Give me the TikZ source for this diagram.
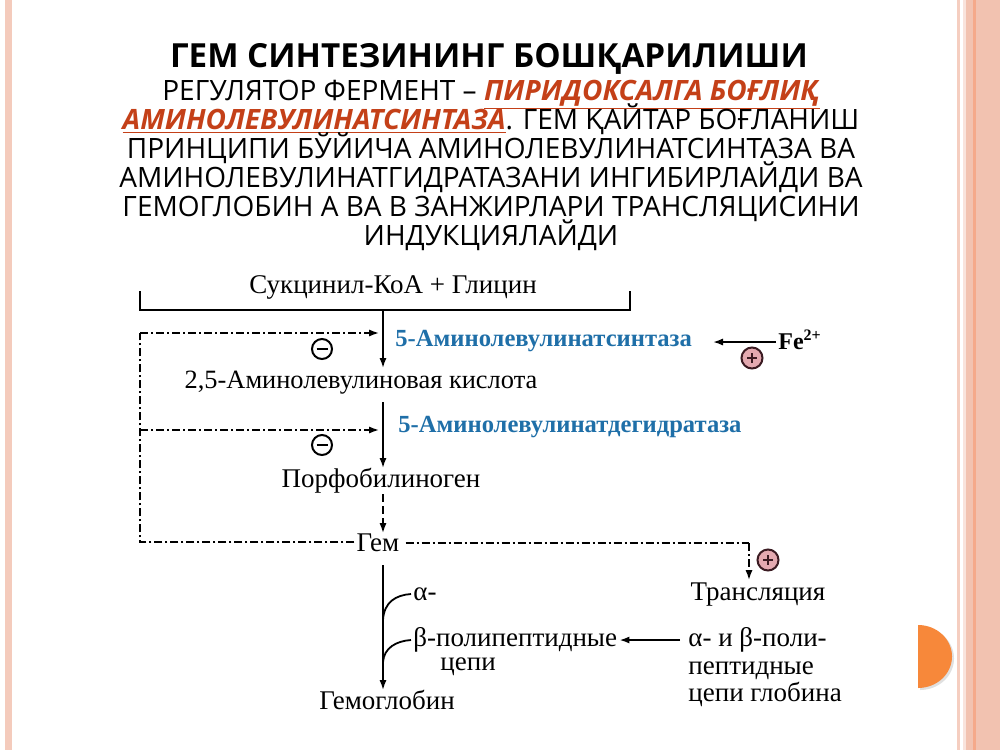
\documentclass[tikz,border=0pt]{standalone}
\usepackage{fontspec}
\usetikzlibrary{arrows.meta}
\newfontfamily\titlefont{Open Sans}
\newfontfamily\dfont{Liberation Serif}
\definecolor{salmon}{HTML}{F2C2B0}
\definecolor{salmonline}{HTML}{F5A98A}
\definecolor{orangeD}{HTML}{F7883A}
\definecolor{redt}{RGB}{196,64,24}
\definecolor{enzblue}{HTML}{1F6FA8}
\definecolor{plusfill}{HTML}{E4A9B0}
\definecolor{plusdraw}{HTML}{3B1B22}
\tikzset{
  tline/.style={font=\titlefont\fontsize{14}{14}\selectfont, inner sep=0pt, anchor=base},
  dtext/.style={font=\dfont\fontsize{13.5}{15}\selectfont, inner sep=1pt},
  enz/.style={font=\dfont\bfseries\fontsize{12.3}{15}\selectfont, text=enzblue, inner sep=1pt, anchor=west},
  solidarrow/.style={line width=0.9pt, -{Latex[length=5pt,width=3.6pt]}},
  dasharrow/.style={line width=0.8pt, dash pattern=on 4pt off 1.5pt on 1pt off 1.5pt, -{Latex[length=5pt,width=3.6pt]}},
  dashline/.style={line width=0.8pt, dash pattern=on 4pt off 1.5pt on 1pt off 1.5pt},
  minus/.style={circle, draw, line width=1pt, minimum size=10pt, inner sep=0pt, fill=white},
  plus/.style={circle, draw=plusdraw, line width=1pt, minimum size=10.5pt, inner sep=0pt, fill=plusfill}
}
\begin{document}
\begin{tikzpicture}[x=0.5pt,y=-0.5pt]
\useasboundingbox (0,0) rectangle (1000,750);
\fill[white] (0,0) rectangle (1000,750);
% side decorations
\fill[salmon!85] (5,0) rectangle (12,750);
\fill[salmon!80] (957,0) rectangle (960,750);
\fill[salmon!45] (963,0) rectangle (966,750);
\fill[salmon] (966,0) rectangle (973,750);
\fill[salmonline] (973,0) rectangle (976,750);
\fill[salmon] (976,0) rectangle (1000,750);
\fill[black!12] (920,627) -- (920,690) arc[start angle=-90, end angle=90, x radius=34, y radius=-31.5] -- cycle;
\fill[orangeD] (918,625) -- (918,688) arc[start angle=-90, end angle=90, x radius=34, y radius=-31.5] -- cycle;

% title and text
\node[tline, font=\titlefont\bfseries\fontsize{16.6}{16}\selectfont] (title) at (489,67) {ГЕМ СИНТЕЗИНИНГ БОШҚАРИЛИШИ};
\node[tline] (l1) at (491,100) {РЕГУЛЯТОР ФЕРМЕНТ – {\color{redt}\bfseries\itshape\underline{ПИРИДОКСАЛГА БОҒЛИҚ}}};
\node[tline] (l2) at (491,129) {{\color{redt}\bfseries\itshape\underline{АМИНОЛЕВУЛИНАТСИНТАЗА}}. ГЕМ ҚАЙТАР БОҒЛАНИШ};
\node[tline] (l3) at (491,158) {ПРИНЦИПИ БЎЙИЧА АМИНОЛЕВУЛИНАТСИНТАЗА ВА};
\node[tline] (l4) at (491,187) {АМИНОЛЕВУЛИНАТГИДРАТАЗАНИ ИНГИБИРЛАЙДИ ВА};
\node[tline] (l5) at (491,216) {ГЕМОГЛОБИН А ВА В ЗАНЖИРЛАРИ ТРАНСЛЯЦИСИНИ};
\node[tline] (l6) at (491,245) {ИНДУКЦИЯЛАЙДИ};

% diagram
\node[dtext] (succ) at (393,287) {Сукцинил-КоА + Глицин};
\coordinate (bl) at (140,291);
\coordinate (blb) at (140,310);
\coordinate (br) at (630,291);
\coordinate (brb) at (630,310);
\draw[line width=0.9pt] (bl) -- (blb) -- (brb) -- (br);
\coordinate (a1) at (383,310);
\node[enz] (enz1) at (393,341) {5-Аминолевулинатсинтаза};
\node[dtext, font=\dfont\fontsize{13.2}{15}\selectfont] (ala) at (361,383) {2,5-Аминолевулиновая кислота};
\coordinate (a1e) at (383,368);
\draw[solidarrow] (a1) -- (a1e);

\node[dtext, anchor=west, font=\dfont\bfseries\fontsize{12}{15}\selectfont] (fe) at (776,340) {Fe\textsuperscript{2+}};
\coordinate (fearr) at (713,342);
\draw[solidarrow] (fe.west |- fearr) -- (fearr);
\node[plus] (p1) at (752,358) {};
\draw[plusdraw, line width=1pt] (p1.center) ++(-5,0) -- ++(10,0) (p1.center) ++(0,-5) -- ++(0,10);

\coordinate (a2) at (383,402);
\node[enz] (enz2) at (396,427) {5-Аминолевулинатдегидратаза};
\node[dtext] (pbg) at (381,481) {Порфобилиноген};
\coordinate (a2e) at (383,468);
\draw[solidarrow] (a2) -- (a2e);

\node[dtext] (gem) at (378,543) {Гем};
\coordinate (pbgs) at (383,494);
\coordinate (gemn) at (383,533);
\draw[line width=0.8pt, dash pattern=on 4pt off 2pt, -{Latex[length=5pt,width=3.6pt]}] (pbgs) -- (gemn);

% feedback
\coordinate (l3c) at (140,542);
\coordinate (l1c) at (140,333);
\coordinate (l2c) at (140,430);
\coordinate (t1) at (379,333);
\coordinate (t2) at (379,430);
\draw[dashline] (gem.west |- l3c) -- (l3c) -- (l1c);
\draw[dasharrow] (l1c) -- (t1);
\draw[dasharrow] (l2c) -- (t2);
\node[minus] (m1) at (322,349) {};
\draw[line width=1.1pt] (m1.center) ++(-5.5,0) -- ++(11,0);
\node[minus] (m2) at (322,445) {};
\draw[line width=1.1pt] (m2.center) ++(-5.5,0) -- ++(11,0);

% translation
\node[dtext] (trans) at (758,595) {Трансляция};
\coordinate (c1) at (749,543);
\coordinate (transn) at (749,580);
\draw[dashline] (gem.east |- c1) ++(4,0) -- (c1);
\draw[dasharrow] (c1) -- (transn);
\node[plus] (p2) at (768,560) {};
\draw[plusdraw, line width=1pt] (p2.center) ++(-5,0) -- ++(10,0) (p2.center) ++(0,-5) -- ++(0,10);

\node[dtext, anchor=north west, align=left, font=\dfont\fontsize{13.5}{13.8}\selectfont] (glob) at (686,625) {α- и β-поли-\\пептидные\\цепи глобина};

% hemoglobin
\node[dtext] (hb) at (387,700) {Гемоглобин};
\coordinate (gs) at (383,565);
\coordinate (hbn) at (383,690);
\draw[solidarrow] (gs) -- (hbn);
\node[dtext, anchor=west] (alpha) at (411,594) {α-};
\node[dtext, anchor=west] (bpp) at (411,640) {β-полипептидные};
\node[dtext, anchor=west] (tsepi) at (438,667) {цепи};
\coordinate (cb1) at (383,620);
\coordinate (cb2) at (383,662);
\draw[line width=0.9pt] (cb1) .. controls (384,602) and (396,595) .. (alpha.west);
\draw[line width=0.9pt] (cb2) .. controls (384,648) and (396,641) .. (bpp.west);
\coordinate (g1) at (680,640);
\draw[solidarrow] (g1) -- (bpp.east);
\end{tikzpicture}
\end{document}
